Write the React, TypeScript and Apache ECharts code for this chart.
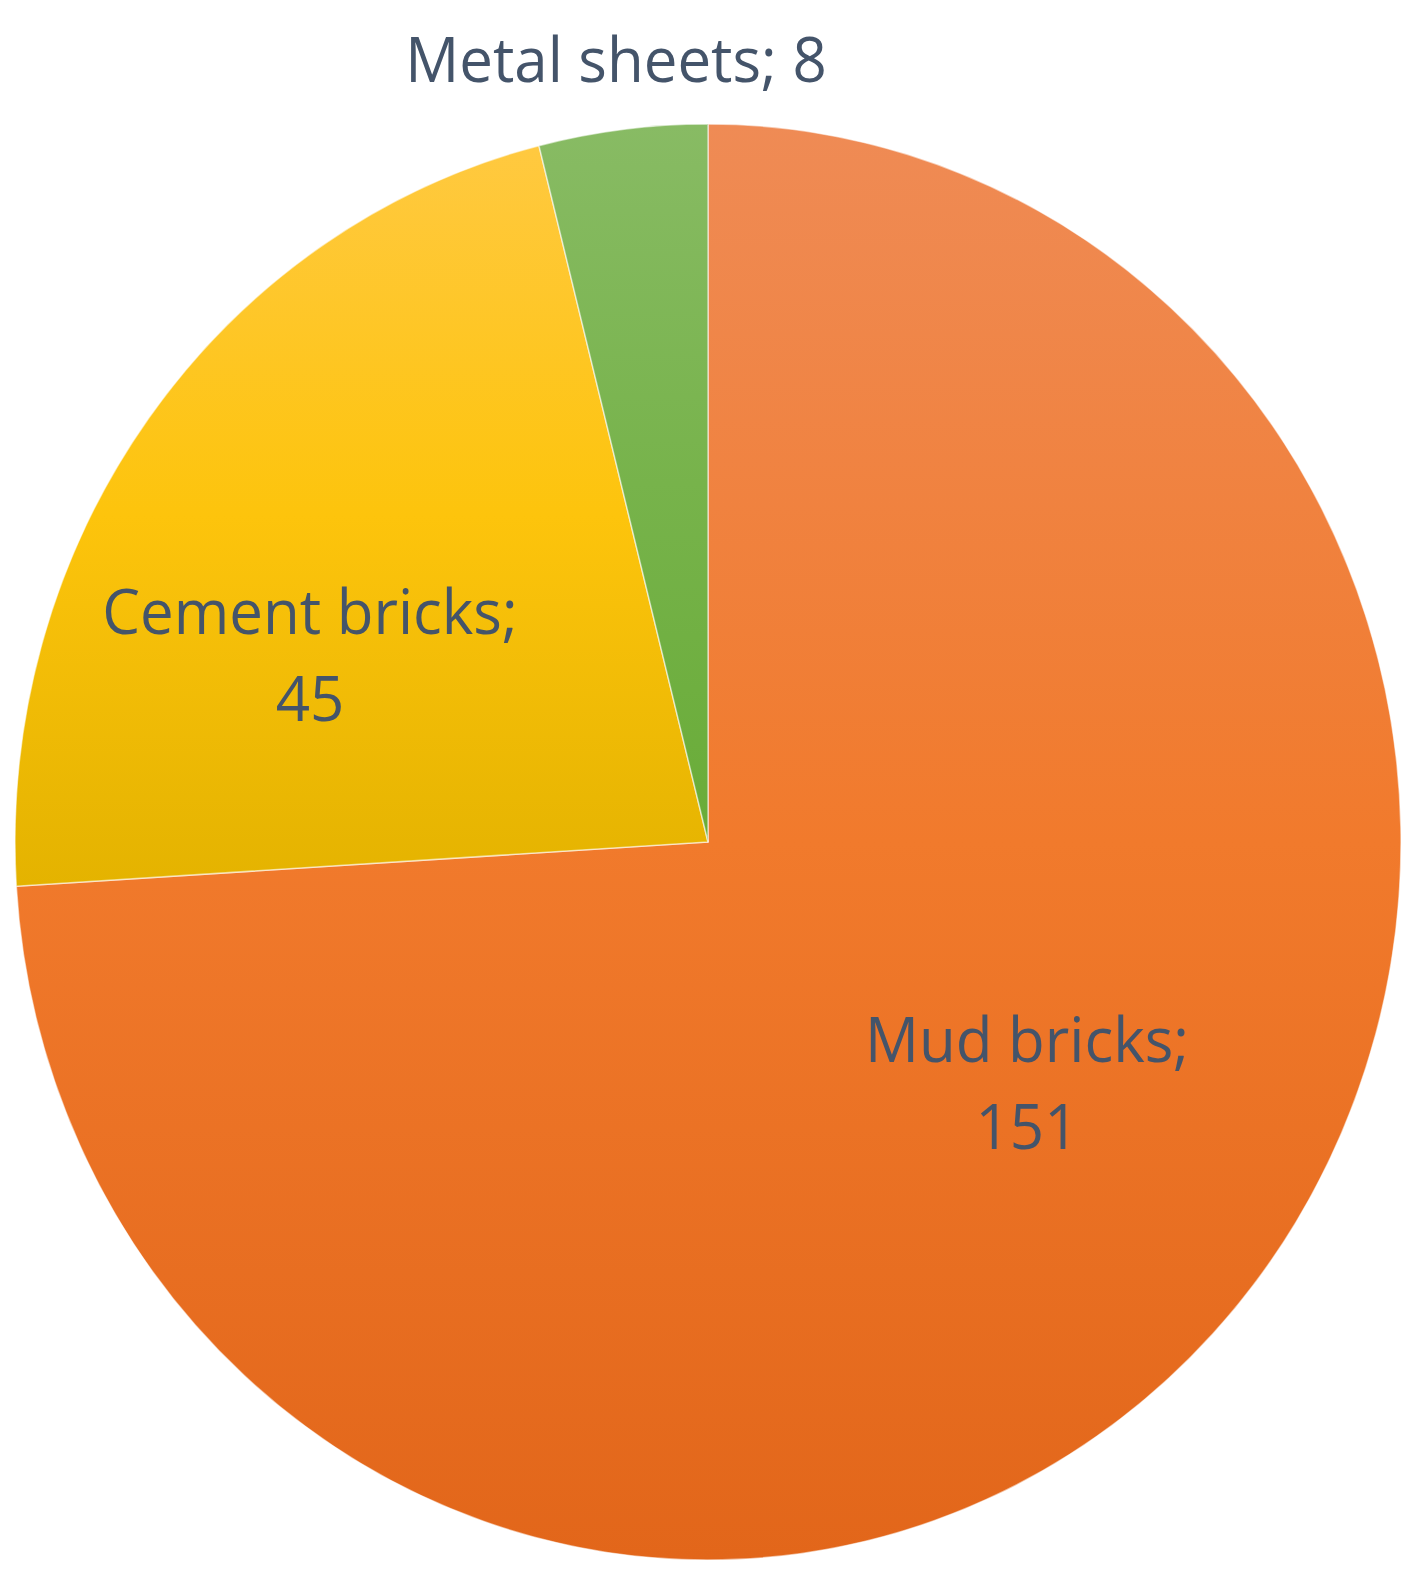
import React, { useEffect, useRef } from "react";
import * as echarts from "echarts";

const categories = ["Mud bricks", "Cement bricks", "Metal sheets"];
const values = [151, 45, 8];

const SCALE_Y = 718 / 693;
const W = 1422;
const H = 1582 / SCALE_Y;

const sliceColors = [
  ["#EF8B55", "#F17A2C", "#E2661A"],
  ["#FFC940", "#FDC40C", "#E4B300"],
  ["#88BB64", "#77B34B", "#69AC38"],
];

// label centres (chart coordinates, before vertical stretch)
const labelPos = [
  { x: 1027, y: 1081.5 / SCALE_Y },
  { x: 310, y: 653.5 / SCALE_Y },
  { x: 616, y: 58 / SCALE_Y },
];

export default function App() {
  const ref = useRef<HTMLDivElement>(null);
  useEffect(() => {
    if (!ref.current) return;
    const chart = echarts.init(ref.current, null, { renderer: "svg" });
    chart.setOption({
      animation: false,
      backgroundColor: "#ffffff",
      series: [
        {
          type: "pie",
          center: [708, 842 / SCALE_Y],
          radius: 693,
          startAngle: 90,
          clockwise: true,
          avoidLabelOverlap: false,
          itemStyle: { borderColor: "rgba(255,255,255,0.55)", borderWidth: 1.5 },
          label: {
            show: true,
            position: "inside",
            formatter: (p: any) =>
              p.dataIndex === 2 ? `${p.name}; ${p.value}` : `${p.name};\n${p.value}`,
            color: "#44546A",
            fontFamily: "Open Sans",
            fontSize: 60,
            lineHeight: 84,
            align: "center",
          },
          labelLine: { show: false },
          labelLayout: (params: any) => {
            const p = labelPos[params.dataIndex];
            return { x: p.x, y: p.y, align: "center", verticalAlign: "middle" };
          },
          emphasis: { disabled: true },
          data: categories.map((name, i) => ({
            name,
            value: values[i],
            itemStyle: {
              color: new echarts.graphic.LinearGradient(0, 0, 0, 1, [
                { offset: 0, color: sliceColors[i][0] },
                { offset: 0.5, color: sliceColors[i][1] },
                { offset: 1, color: sliceColors[i][2] },
              ]),
            },
          })),
        },
      ],
    });
    return () => chart.dispose();
  }, []);
  return (
    <div
      style={{
        position: "absolute",
        left: 0,
        top: 0,
        width: W,
        height: 1582,
        overflow: "hidden",
        background: "#fff",
      }}
    >
      <div
        ref={ref}
        style={{
          width: W,
          height: H,
          transform: `scaleY(${SCALE_Y})`,
          transformOrigin: "top left",
        }}
      />
    </div>
  );
}
